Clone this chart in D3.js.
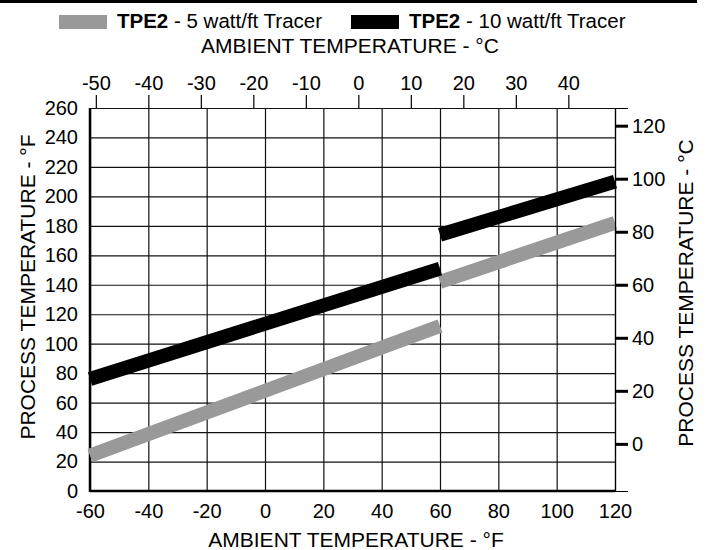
<!DOCTYPE html>
<html>
<head>
<meta charset="utf-8">
<script src="https://cdn.jsdelivr.net/npm/d3@7"></script>
<style>
  body { margin: 0; background: #fff; }
  svg text { font-family: "Liberation Sans", Arial, Helvetica, sans-serif; fill: #000; }
</style>
</head>
<body>
<div id="chart"></div>
<script>
// tick values
var ambientF = [-60, -40, -20, 0, 20, 40, 60, 80, 100, 120];
var ambientC = [-50, -40, -30, -20, -10, 0, 10, 20, 30, 40];
var processF = [0, 20, 40, 60, 80, 100, 120, 140, 160, 180, 200, 220, 240, 260];
var processC = [0, 20, 40, 60, 80, 100, 120];

// series: two segments each, ambient F -> process F
var tracer5 = [
    [{ x: -60, y: 24 }, { x: 60, y: 112 }],
    [{ x: 60, y: 142 }, { x: 120, y: 182 }]
];
var tracer10 = [
    [{ x: -60, y: 76 }, { x: 60, y: 151 }],
    [{ x: 60, y: 174 }, { x: 120, y: 210 }]
];
var legendLabels = ["5 watt/ft Tracer", "10 watt/ft Tracer"];

var width = 711,
    height = 550;
var pLeft = 90, pRight = 615, pTop = 108, pBottom = 491;

var svg = d3.select("#chart").append("svg")
    .attr("width", width)
    .attr("height", height);

function toC(f) { return (f - 32) / 1.8; }
function plain(d) { return String(d); }

var x = d3.scaleLinear().domain([-60, 120]).range([pLeft, pRight]);
var y = d3.scaleLinear().domain([0, 260]).range([pBottom, pTop]);
var xC = d3.scaleLinear().domain([toC(-60), toC(120)]).range([pLeft, pRight]);
var yC = d3.scaleLinear().domain([toC(0), toC(260)]).range([pBottom, pTop]);

// top rule
svg.append("rect")
    .attr("x", 0).attr("y", 0)
    .attr("width", 697).attr("height", 3)
    .attr("fill", "#000");

// grid
svg.append("g")
    .attr("transform", "translate(0," + pBottom + ")")
    .call(d3.axisBottom(x).tickValues(ambientF).tickSize(-(pBottom - pTop)).tickFormat(""))
    .call(function(g) { g.select(".domain").remove(); })
    .selectAll("line").attr("stroke", "#111").attr("stroke-width", 1.2);

svg.append("g")
    .attr("transform", "translate(" + pLeft + ",0)")
    .call(d3.axisLeft(y).tickValues(processF).tickSize(-(pRight - pLeft)).tickFormat(""))
    .call(function(g) { g.select(".domain").remove(); })
    .selectAll("line").attr("stroke", "#111").attr("stroke-width", 1.2);

// frame
svg.append("line").attr("x1", pLeft).attr("x2", pLeft).attr("y1", pTop).attr("y2", pBottom + 1)
    .attr("stroke", "#000").attr("stroke-width", 2.5);
svg.append("line").attr("x1", pLeft).attr("x2", pRight).attr("y1", pBottom).attr("y2", pBottom)
    .attr("stroke", "#000").attr("stroke-width", 2.5);

// series lines
var line = d3.line().x(function(d) { return x(d.x); }).y(function(d) { return y(d.y); });

svg.selectAll(".t5")
    .data(tracer5)
    .enter().append("path")
    .attr("class", "t5")
    .attr("d", line)
    .attr("fill", "none")
    .attr("stroke", "#999")
    .attr("stroke-width", 14);

svg.selectAll(".t10")
    .data(tracer10)
    .enter().append("path")
    .attr("class", "t10")
    .attr("d", line)
    .attr("fill", "none")
    .attr("stroke", "#000")
    .attr("stroke-width", 14);

// bottom axis labels (F)
var gb = svg.append("g")
    .attr("transform", "translate(0," + pBottom + ")")
    .call(d3.axisBottom(x).tickValues(ambientF).tickFormat(plain).tickSize(0).tickPadding(13));
gb.select(".domain").remove();
gb.selectAll("text").attr("font-size", 20).attr("font-family", null);

// top axis (C)
var gt = svg.append("g")
    .attr("transform", "translate(0," + pTop + ")")
    .call(d3.axisTop(xC).tickValues(ambientC).tickFormat(plain).tickSize(13).tickPadding(5));
gt.select(".domain").remove();
gt.selectAll("line").attr("stroke", "#000").attr("stroke-width", 1.2);
gt.selectAll("text").attr("font-size", 20).attr("font-family", null);

// left axis labels (F)
var gl = svg.append("g")
    .attr("transform", "translate(" + pLeft + ",0)")
    .call(d3.axisLeft(y).tickValues(processF).tickFormat(plain).tickSize(0).tickPadding(12));
gl.select(".domain").remove();
gl.selectAll("text").attr("font-size", 20).attr("font-family", null);

// right axis (C)
var gr = svg.append("g")
    .attr("transform", "translate(" + pRight + ",0)")
    .call(d3.axisRight(yC).tickValues(processC).tickFormat(plain).tickSize(13).tickPadding(4));
gr.select(".domain").attr("stroke", "#000").attr("stroke-width", 1.2);
gr.selectAll("line").attr("stroke", "#000").attr("stroke-width", 3);
gr.selectAll("text").attr("font-size", 20).attr("font-family", null);

// axis titles
svg.append("text")
    .attr("x", 356).attr("y", 547)
    .attr("text-anchor", "middle").attr("font-size", 21)
    .text("AMBIENT TEMPERATURE - °F");

svg.append("text")
    .attr("x", 350).attr("y", 53)
    .attr("text-anchor", "middle").attr("font-size", 21)
    .text("AMBIENT TEMPERATURE - °C");

svg.append("text")
    .attr("transform", "translate(35,287) rotate(-90)")
    .attr("text-anchor", "middle").attr("font-size", 21)
    .text("PROCESS TEMPERATURE - °F");

svg.append("text")
    .attr("transform", "translate(693,293) rotate(-90)")
    .attr("text-anchor", "middle").attr("font-size", 21)
    .text("PROCESS TEMPERATURE - °C");

// legend
var legendX = [59, 351];
var legendColor = ["#999", "#000"];
var lg = svg.selectAll(".legend")
    .data(legendLabels)
    .enter().append("g")
    .attr("class", "legend")
    .attr("transform", function(d, i) { return "translate(" + legendX[i] + ",15)"; });

lg.append("rect")
    .attr("width", 48).attr("height", 14)
    .attr("fill", function(d, i) { return legendColor[i]; });

var lt = lg.append("text")
    .attr("x", 58).attr("y", 13)
    .attr("font-size", 20.5);
lt.append("tspan").attr("font-weight", "bold").text("TPE2");
lt.append("tspan").text(function(d) { return " - " + d; });
</script>
</body>
</html>
